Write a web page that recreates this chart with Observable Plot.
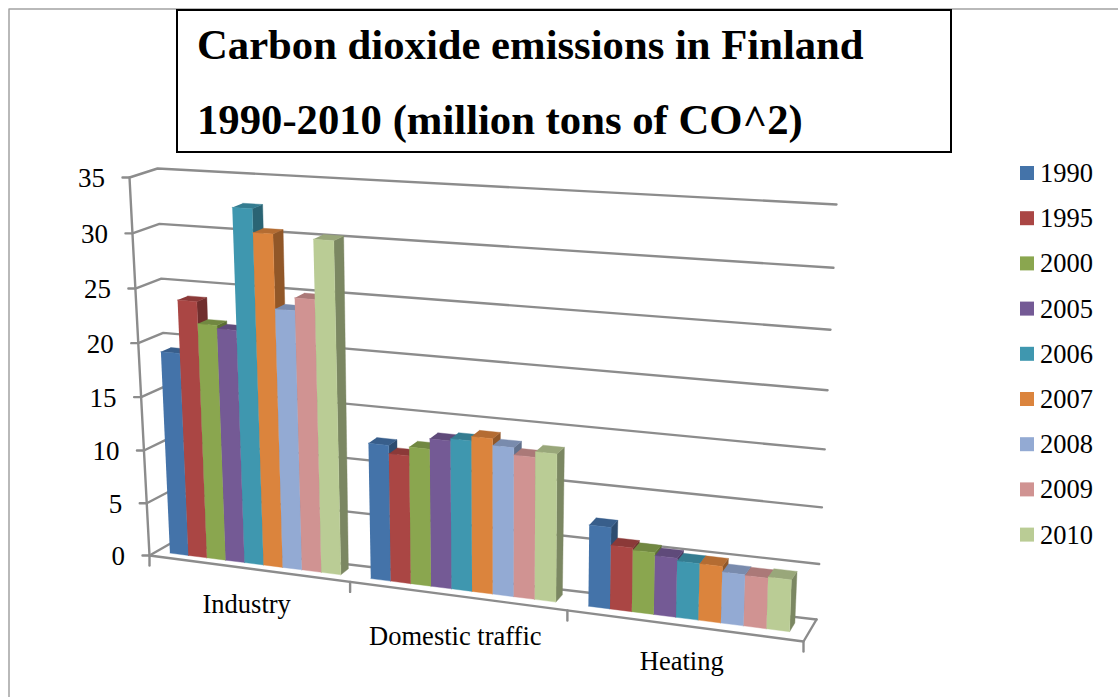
<!DOCTYPE html>
<html>
<head>
<meta charset="utf-8">
<title>Carbon dioxide emissions in Finland</title>
<script src="https://cdn.jsdelivr.net/npm/d3@7"></script>
<script src="https://cdn.jsdelivr.net/npm/@observablehq/plot@0.6"></script>
<style>html,body{margin:0;padding:0;background:#fff}svg{display:block}</style>
</head>
<body>
<div id="chart"></div>
<script>
// ---- data ----
const years = ["1990","1995","2000","2005","2006","2007","2008","2009","2010"];
const categories = ["Industry","Domestic traffic","Heating"];
const industry = [19.0,23.9,21.9,21.6,32.6,30.5,23.85,25.0,30.3];
const domesticTraffic = [12.55,11.8,12.6,13.55,13.75,14.15,13.55,12.9,13.4];
const heating = [7.4,5.8,5.6,5.35,5.1,5.1,4.6,4.55,4.65];
const seriesByCategory = [industry, domesticTraffic, heating];
const yTicks = [0,5,10,15,20,25,30,35];
const titleLines = ["Carbon dioxide emissions in Finland","1990-2010 (million tons of CO^2)"];
const colors = ["#4473A9","#AA4644","#8AA64F","#745A95","#3F97AF","#DB843D","#93AAD3","#D09392","#BACC95"];

// ---- 3-D view: corners of the chart box as seen in the picture ----
const W = 1118, H = 697, VMAX = 35;
const box = {
  frontBottom: [[149,555],[803,641]],
  backBottom:  [[170,543],[816,619]],
  frontTop:    [[129,177],[816,222]],
  backTop:     [[157,168],[836,204]]
};
const lerp = (a,b,t) => a + (b-a)*t;
const lerpP = (p,q,t) => [lerp(p[0],q[0],t), lerp(p[1],q[1],t)];
const warpU = t => t/(t + (1-t)*1.13);
const warpV = (s,u) => s/(1 + lerp(0.04,0.08,u)*(1-s));
function project(t, d, v) {
  const u = warpU(t), s = warpV(v/VMAX, u);
  const bottom = lerpP(lerpP(box.frontBottom[0],box.backBottom[0],d), lerpP(box.frontBottom[1],box.backBottom[1],d), u);
  const top = lerpP(lerpP(box.frontTop[0],box.backTop[0],d), lerpP(box.frontTop[1],box.backTop[1],d), u);
  return lerpP(bottom, top, s);
}
const shade = (c,k) => { const r = d3.rgb(c); return d3.rgb(r.r*k, r.g*k, r.b*k).formatHex(); };

// ---- bars as polygons through the projection ----
const GAP = 0.024, BARW = (1/3 - 2*GAP)/years.length, D0 = 0.34, D1 = 0.74;
const polys = [];
let pid = 0;
function poly(pts, color) {
  const id = pid++;
  for (const [x,y] of pts) polys.push({id, x, y, color});
}
seriesByCategory.forEach((vals, c) => {
  vals.forEach((v, i) => {
    const t0 = c/3 + GAP + i*BARW - 0.001, t1 = t0 + BARW, col = colors[i];
    poly([project(t1,D0,0),project(t1,D1,0),project(t1,D1,v),project(t1,D0,v)], shade(col,0.66));
    poly([project(t0,D0,v),project(t1,D0,v),project(t1,D1,v),project(t0,D1,v)], shade(col,0.82));
    poly([project(t0,D0,0),project(t1,D0,0),project(t1,D0,v),project(t0,D0,v)], col);
  });
});

// ---- chart box lines ----
const segs = [];
let sid = 0;
function seg(...pts) { const id = sid++; for (const [x,y] of pts) segs.push({id,x,y}); }
yTicks.forEach(v => {
  const f = project(0,0,v);
  seg([f[0]-7,f[1]], f, project(0,1,v), project(1,1,v));
});
seg(project(0,0,0), project(0,0,VMAX));
seg(project(0,0,0), project(1,0,0), project(1,1,0));
[0,1,2,3].forEach(k => { const p = project(k/3,0,0); seg(p,[p[0],p[1]+10]); });

const tickLabels = yTicks.map(v => { const p = project(0,0,v); return {label:String(v), x:p[0]-24.5, y:p[1]+1}; });
const labelDrop = [36,41,36];
const catLabels = categories.map((label,c) => { const p = project((c+0.5)/3,0,0); return {label, x:p[0]-1.2, y:p[1]+labelDrop[c]}; });
const legend = years.map((label,i) => ({label, color:colors[i], y:173 + i*45.2}));
const serif = "Liberation Serif, Times New Roman, serif";

const chart = Plot.plot({
  width: W, height: H, margin: 0,
  x: {domain:[0,W], range:[0,W], axis:null},
  y: {domain:[0,H], range:[0,H], axis:null},
  style: {background:"#fff"},
  marks: [
    Plot.line([{x:8.5,y:697},{x:8.5,y:8.5},{x:1118,y:8.5}], {x:"x",y:"y",stroke:"#a3a3a3",strokeWidth:1.5}),
    Plot.line(segs, {x:"x",y:"y",z:"id",stroke:"#8c8c8c",strokeWidth:2.4,curve:"linear"}),
    Plot.line(polys, {x:"x",y:"y",z:"id",fill:"color",stroke:"color",strokeWidth:0.4,curve:"linear"}),
    Plot.rect([{x1:177,x2:951,y1:10,y2:152}], {x1:"x1",x2:"x2",y1:"y1",y2:"y2",fill:"#fff",stroke:"#000",strokeWidth:2}),
    Plot.text(titleLines, {x:196.5, y:(d,i)=>[45,120][i], text:d=>d, textAnchor:"start", fontFamily:serif, fontWeight:"bold", fontSize:42.7, fill:"#000"}),
    Plot.text(tickLabels, {x:"x",y:"y",text:"label",textAnchor:"end",fontFamily:serif,fontSize:27,fill:"#000"}),
    Plot.text(catLabels, {x:"x",y:"y",text:"label",textAnchor:"middle",fontFamily:serif,fontSize:26.5,fill:"#000"}),
    Plot.rect(legend, {x1:1020,x2:1034,y1:d=>d.y-7,y2:d=>d.y+7,fill:"color"}),
    Plot.text(legend, {x:1039.5,y:"y",text:"label",textAnchor:"start",fontFamily:serif,fontSize:26.5,fill:"#000"})
  ]
});
document.getElementById("chart").appendChild(chart);
</script>
</body>
</html>
